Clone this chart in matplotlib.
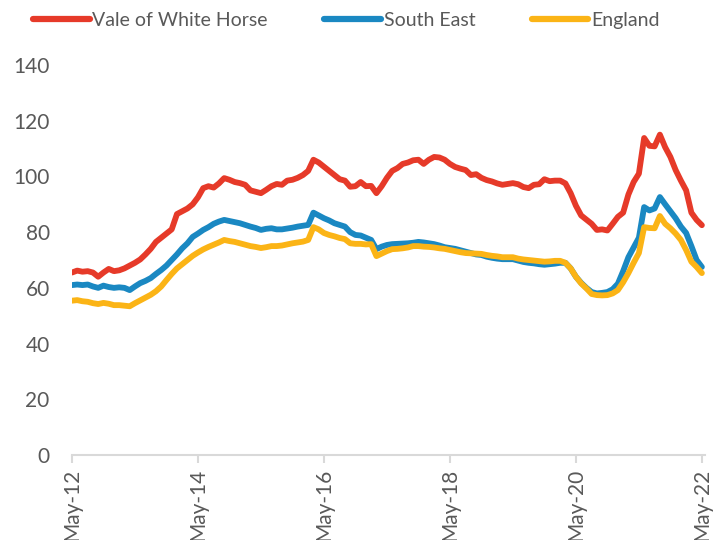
import matplotlib.pyplot as plt
import pandas as pd

# Monthly index, May-12 .. May-22
dates = pd.date_range('2012-05-01', '2022-05-01', freq='MS')
tick_labels = ['May-12', 'May-14', 'May-16', 'May-18', 'May-20', 'May-22']

vale = [65.5, 66.2, 65.8, 66.0, 65.5, 64.0, 65.5, 66.8, 66.0, 66.3, 67.0, 68.0,
        69.0, 70.2, 72.0, 74.0, 76.5, 78.0, 79.5, 81.0, 86.5, 87.5, 88.5, 90.0,
        92.5, 95.8, 96.5, 96.0, 97.5, 99.4, 98.8, 98.0, 97.6, 97.0, 95.0, 94.5,
        94.0, 95.2, 96.5, 97.3, 97.0, 98.5, 98.8, 99.5, 100.5, 102.0, 106.0, 105.0,
        103.5, 102.0, 100.5, 99.0, 98.5, 96.3, 96.5, 98.0, 96.5, 96.6, 94.0, 96.5,
        99.5, 102.0, 103.0, 104.5, 105.0, 105.8, 106.0, 104.5, 106.0, 107.0, 106.8, 106.0,
        104.5, 103.4, 102.8, 102.3, 100.5, 100.8, 99.5, 98.7, 98.2, 97.5, 97.0, 97.3,
        97.6, 97.2, 96.2, 95.8, 97.0, 97.2, 99.0, 98.3, 98.5, 98.5, 97.5, 94.0,
        89.5, 86.0, 84.5, 83.0, 80.8, 81.0, 80.6, 83.0, 85.5, 87.0, 93.5, 98.0,
        101.0, 113.8, 111.0, 110.8, 115.0, 110.5, 107.0, 102.3, 98.5, 95.0, 87.0, 84.4, 82.5]

south_east = [61.0, 61.2, 61.0, 61.2, 60.5, 60.0, 60.8, 60.3, 60.0, 60.2, 60.0, 59.2,
              60.5, 61.7, 62.5, 63.5, 65.0, 66.4, 68.0, 70.0, 72.0, 74.2, 76.0, 78.3,
              79.5, 80.8, 81.8, 83.0, 83.8, 84.4, 84.0, 83.6, 83.2, 82.6, 82.0, 81.5,
              80.8, 81.2, 81.4, 81.0, 81.0, 81.3, 81.6, 82.0, 82.3, 82.6, 87.0, 86.0,
              85.0, 84.2, 83.2, 82.6, 82.0, 80.0, 79.0, 78.8, 78.0, 77.2, 73.9, 74.8,
              75.4, 75.7, 75.8, 75.9, 76.0, 76.2, 76.5, 76.3, 76.0, 75.7, 75.2, 74.6,
              74.3, 74.0, 73.5, 73.0, 72.5, 72.0, 71.8, 71.2, 70.8, 70.5, 70.3, 70.3,
              70.3, 69.8, 69.3, 69.0, 68.8, 68.5, 68.3, 68.5, 68.7, 69.0, 69.0, 67.0,
              64.0, 61.8, 60.0, 58.5, 58.0, 58.2, 58.5, 59.5, 61.5, 66.0, 71.0, 74.5,
              78.0, 89.0, 87.8, 88.5, 92.6, 90.0, 87.5, 85.0, 82.0, 79.7, 75.0, 70.0, 67.5]

england = [55.4, 55.6, 55.2, 55.0, 54.5, 54.2, 54.6, 54.3, 53.8, 53.8, 53.6, 53.4,
           54.5, 55.5, 56.5, 57.5, 58.8, 60.5, 62.8, 65.0, 67.0, 68.5, 70.0, 71.5,
           72.7, 73.8, 74.7, 75.5, 76.3, 77.2, 76.8, 76.5, 76.0, 75.5, 75.0, 74.7,
           74.3, 74.6, 75.0, 75.0, 75.2, 75.6, 76.0, 76.3, 76.6, 77.2, 81.8, 81.0,
           79.7, 79.0, 78.5, 77.9, 77.5, 76.0, 75.8, 75.8, 75.6, 75.7, 71.4, 72.3,
           73.2, 73.9, 74.0, 74.2, 74.5, 75.0, 75.0, 74.8, 74.7, 74.5, 74.2, 74.0,
           73.6, 73.2, 72.8, 72.5, 72.4, 72.3, 72.2, 71.8, 71.5, 71.3, 71.0, 71.0,
           71.0, 70.5, 70.2, 70.0, 69.8, 69.6, 69.4, 69.5, 69.7, 69.7, 69.0, 67.0,
           64.0, 61.6, 59.8, 57.8, 57.4, 57.3, 57.4, 58.0, 59.2, 62.0, 65.3, 69.0,
           72.5, 81.8, 81.5, 81.4, 85.8, 83.0, 81.4, 79.5, 77.2, 73.6, 69.4, 67.5, 65.3]

plt.rcParams['font.family'] = ['Lato', 'DejaVu Sans']
text_color = '#595959'

fig = plt.figure(figsize=(7.24, 5.4), dpi=100)
ax = fig.add_axes([0.0994, 0.1574, 0.8744, 0.7222])

x = list(range(len(dates)))
ax.plot(x, vale, color='#E63A29', lw=4.2, label='Vale of White Horse', solid_capstyle='round')
ax.plot(x, south_east, color='#1A88C2', lw=4.2, label='South East', solid_capstyle='round')
ax.plot(x, england, color='#FBB416', lw=4.2, label='England', solid_capstyle='round')

ax.set_xlim(0, 120.6)
ax.set_ylim(0, 140)
ax.set_yticks(range(0, 141, 20))
ax.set_xticks(range(0, 121, 24))
ax.set_xticklabels(tick_labels, rotation=90)

for side in ['top', 'right', 'left']:
    ax.spines[side].set_visible(False)
ax.spines['bottom'].set_color('#D9D9D9')
ax.spines['bottom'].set_linewidth(1.5)
ax.tick_params(axis='y', length=0, pad=16, labelsize=15, labelcolor=text_color)
ax.tick_params(axis='x', length=6, width=1.5, color='#D9D9D9', pad=4,
               labelsize=15, labelcolor=text_color)

leg = fig.legend(loc='upper left', bbox_to_anchor=(0.035, 0.993), ncol=3,
                 frameon=False, fontsize=14, handlelength=2.9, handletextpad=0.15,
                 columnspacing=2.9, borderaxespad=0)
for t in leg.get_texts():
    t.set_color(text_color)
for h in leg.get_lines():
    h.set_linewidth(4.5)

fig.savefig('out.png', dpi=100)
